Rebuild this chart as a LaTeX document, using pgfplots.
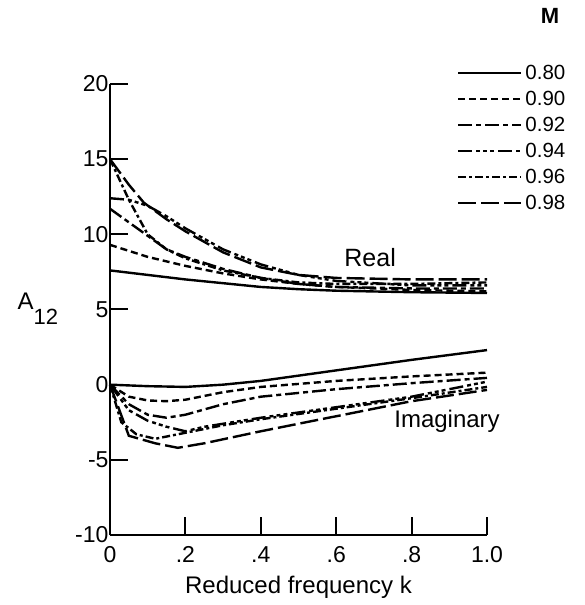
\documentclass[border=0pt]{standalone}
\usepackage{fontspec}
\setmainfont{Liberation Sans}
\usepackage{pgfplots}
\pgfplotsset{compat=1.18}
\begin{document}
\begin{tikzpicture}
\begin{axis}[
  at={(0,0)}, anchor=south west,
  scale only axis, width=377pt, height=451pt,
  xmin=0, xmax=1, ymin=-10, ymax=20,
  axis lines=left, axis line style={-, line width=2pt},
  tick align=inside, major tick length=18pt,
  tick style={line width=2pt, black},
  xtick={0,0.2,0.4,0.6,0.8,1.0},
  xticklabels={0,.2,.4,.6,.8,1.0},
  ytick={-10,-5,0,5,10,15,20},
  /pgf/number format/assume math mode=true,
  tick label style={font=\fontsize{23}{25}\selectfont},
  yticklabel style={xshift=2pt},
  xticklabel style={yshift=-8pt},
  xlabel={Reduced frequency k},
  xlabel style={font=\fontsize{24}{26}\selectfont, yshift=-6pt},
  clip=false,
  every axis plot/.append style={line width=2.4pt, black},
  legend image code/.code={\draw[#1] (0pt,0pt) -- (63pt,0pt);},
  legend style={at={(axis cs:0.92,21.35)}, anchor=north west, draw=none, fill=none,
    font=\fontsize{20.5}{22}\selectfont, row sep=8.2pt, inner sep=0pt,
    nodes={inner xsep=3pt, inner ysep=1pt}},
  legend cell align=left,
]
% Real parts
\addplot[solid] coordinates {(0,7.6)(0.1,7.3)(0.2,7.0)(0.3,6.75)(0.4,6.5)(0.5,6.35)(0.6,6.25)(0.8,6.15)(1.0,6.1)};
\addlegendentry{0.80}
\addplot[dash pattern=on 7pt off 4pt] coordinates {(0,9.3)(0.05,8.9)(0.1,8.5)(0.2,7.9)(0.3,7.4)(0.4,7.0)(0.5,6.7)(0.6,6.5)(0.8,6.3)(1.0,6.2)};
\addlegendentry{0.90}
\addplot[dash pattern=on 14pt off 4pt on 5pt off 4pt] coordinates {(0,11.7)(0.05,10.8)(0.1,9.9)(0.15,9.0)(0.2,8.5)(0.3,7.7)(0.4,7.1)(0.5,6.7)(0.6,6.5)(0.8,6.4)(1.0,6.4)};
\addlegendentry{0.92}
\addplot[dash pattern=on 14pt off 4pt on 4pt off 3pt on 4pt off 3pt on 4pt off 4pt] coordinates {(0,12.4)(0.05,12.3)(0.1,11.9)(0.15,11.2)(0.2,10.4)(0.3,9.0)(0.4,8.0)(0.5,7.3)(0.6,6.9)(0.8,6.6)(1.0,6.6)};
\addlegendentry{0.94}
\addplot[dash pattern=on 8pt off 3pt on 3pt off 3pt] coordinates {(0,15)(0.05,12.3)(0.1,10.0)(0.15,9.0)(0.2,8.4)(0.3,7.6)(0.4,7.1)(0.5,6.8)(0.6,6.7)(0.8,6.7)(1.0,6.8)};
\addlegendentry{0.96}
\addplot[dash pattern=on 18pt off 5pt] coordinates {(0,15)(0.05,13.3)(0.09,12.1)(0.15,11.0)(0.2,10.2)(0.3,8.8)(0.4,7.8)(0.5,7.3)(0.6,7.1)(0.8,7.0)(1.0,7.0)};
\addlegendentry{0.98}
% Imaginary parts
\addplot[solid, forget plot] coordinates {(0,0)(0.1,-0.1)(0.2,-0.15)(0.3,0)(0.4,0.25)(0.6,0.95)(0.8,1.65)(1.0,2.3)};
\addplot[dash pattern=on 7pt off 4pt, forget plot] coordinates {(0,0)(0.05,-0.8)(0.1,-1.05)(0.15,-1.1)(0.2,-1.0)(0.3,-0.5)(0.4,-0.15)(0.6,0.25)(0.8,0.55)(1.0,0.8)};
\addplot[dash pattern=on 14pt off 4pt on 5pt off 4pt, forget plot] coordinates {(0,0)(0.05,-1.3)(0.1,-2.0)(0.15,-2.2)(0.2,-2.0)(0.3,-1.3)(0.4,-0.8)(0.6,-0.3)(0.8,0.1)(1.0,0.45)};
\addplot[dash pattern=on 14pt off 4pt on 4pt off 3pt on 4pt off 3pt on 4pt off 4pt, forget plot] coordinates {(0,0)(0.05,-1.7)(0.1,-2.4)(0.15,-2.8)(0.2,-3.1)(0.25,-2.8)(0.4,-2.2)(0.6,-1.5)(0.8,-0.8)(1.0,0.2)};
\addplot[dash pattern=on 8pt off 3pt on 3pt off 3pt, forget plot] coordinates {(0,0)(0.03,-2.5)(0.07,-3.3)(0.12,-3.6)(0.2,-3.2)(0.3,-2.7)(0.4,-2.3)(0.6,-1.6)(0.8,-0.9)(1.0,-0.15)};
\addplot[dash pattern=on 18pt off 5pt, forget plot] coordinates {(0,0)(0.05,-3.4)(0.12,-3.9)(0.18,-4.2)(0.25,-3.9)(0.4,-3.1)(0.6,-2.1)(0.8,-1.1)(1.0,-0.35)};
\node[font=\fontsize{25}{27}\selectfont] at (axis cs:0.69,8.45) {Real};
\node[font=\fontsize{24}{26}\selectfont] at (axis cs:0.894,-2.46) {Imaginary};
\node[font=\fontsize{22}{24}\selectfont\bfseries] at (axis cs:1.167,24.5) {M};
\end{axis}
\node[anchor=base west, font=\fontsize{24}{26}\selectfont] at (-96pt,225pt) {A\raisebox{-15pt}{\fontsize{22}{24}\selectfont 12}};
\pgfresetboundingbox
\path (-110pt,-70pt) rectangle (475pt,535pt);
\end{tikzpicture}
\end{document}
